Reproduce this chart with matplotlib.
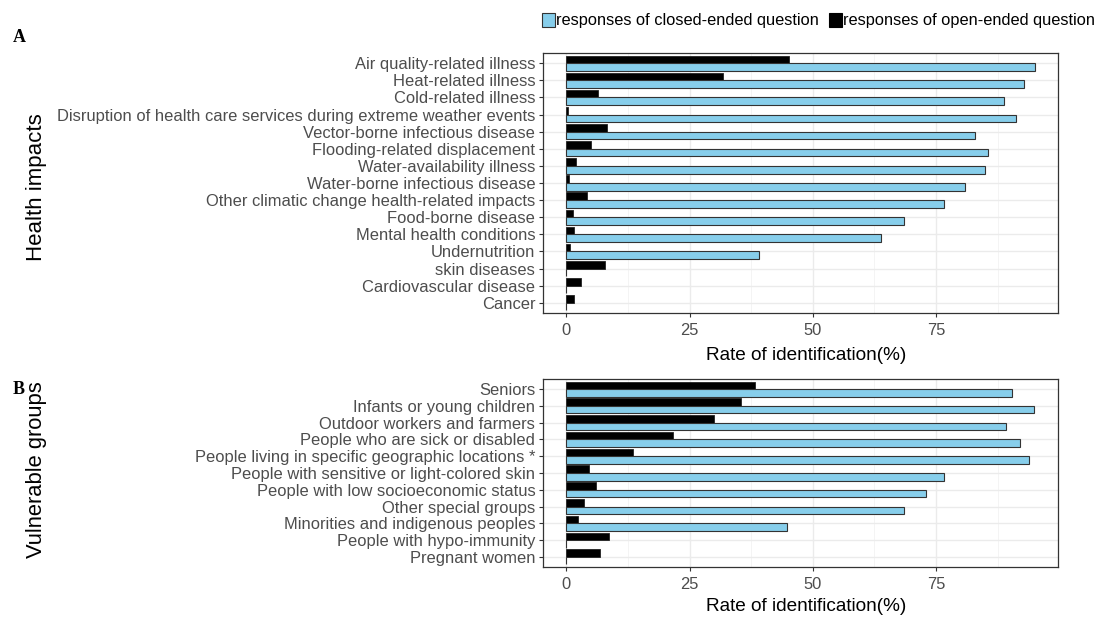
import matplotlib
matplotlib.use("Agg")
import matplotlib.pyplot as plt
import numpy as np
from matplotlib.patches import Rectangle

plt.rcParams['font.family'] = ['Liberation Sans', 'DejaVu Sans']

health_cats = ["Air quality-related illness", "Heat-related illness", "Cold-related illness",
               "Disruption of health care services during extreme weather events",
               "Vector-borne infectious disease", "Flooding-related displacement",
               "Water-availability illness", "Water-borne infectious disease",
               "Other climatic change health-related impacts", "Food-borne disease",
               "Mental health conditions", "Undernutrition", "skin diseases",
               "Cardiovascular disease", "Cancer"]
health_closed = [95.1, 92.8, 88.8, 91.2, 83.0, 85.6, 85.0, 80.9, 76.7, 68.4, 63.8, 39.0, 0, 0, 0]
health_open = [45.1, 31.8, 6.4, 0.3, 8.3, 4.9, 2.0, 0.6, 4.1, 1.4, 1.6, 0.8, 7.9, 3.0, 1.6]

group_cats = ["Seniors", "Infants or young children", "Outdoor workers and farmers",
              "People who are sick or disabled", "People living in specific geographic locations *",
              "People with sensitive or light-colored skin", "People with low socioeconomic status",
              "Other special groups", "Minorities and indigenous peoples",
              "People with hypo-immunity", "Pregnant women"]
group_closed = [90.5, 94.9, 89.1, 92.0, 93.9, 76.6, 73.0, 68.6, 44.7, 0, 0]
group_open = [38.2, 35.4, 30.0, 21.6, 13.6, 4.5, 6.1, 3.6, 2.4, 8.6, 6.9]

x_ticks = [0, 25, 50, 75]
legend_labels = ["responses of closed-ended question", "responses of open-ended question"]

BLUE = "#87CEEB"
W, H = 1102, 619
fig = plt.figure(figsize=(W / 100, H / 100), dpi=100)

def px_axes(left, top, right, bottom):
    return fig.add_axes([left / W, 1 - bottom / H, (right - left) / W, (bottom - top) / H])

def panel(ax, cats, closed, opened, label_y):
    n = len(cats)
    y = np.arange(n)
    h = 0.45
    ax.barh(y - h / 2, opened, height=h, color="black", edgecolor="#222222", linewidth=0.6, zorder=3)
    ax.barh(y + h / 2, closed, height=h, color=BLUE, edgecolor="#333333", linewidth=0.8, zorder=3)
    ax.set_ylim(n - 1 + 0.6, -0.6)
    ax.set_xlim(-4.75, 99.75)
    ax.set_yticks(y)
    ax.set_yticklabels(cats, fontsize=11.9, color="#4d4d4d")
    ax.set_xticks(x_ticks)
    ax.set_xticklabels([str(t) for t in x_ticks], fontsize=11.9, color="#4d4d4d")
    ax.set_xticks([12.5, 37.5, 62.5, 87.5], minor=True)
    ax.grid(True, which="major", color="#ebebeb", linewidth=1.0, zorder=0)
    ax.grid(True, which="minor", axis="x", color="#f2f2f2", linewidth=0.6, zorder=0)
    ax.set_axisbelow(True)
    ax.tick_params(axis="both", which="major", length=3, width=0.8, color="#333333", pad=2.5)
    ax.tick_params(axis="x", which="major", pad=4)
    ax.tick_params(axis="x", which="minor", length=0)
    for s in ax.spines.values():
        s.set_color("#333333")
        s.set_linewidth(0.9)
    ax.set_xlabel("Rate of identification(%)", fontsize=13.7)
    ax.xaxis.set_label_coords(0.511, label_y)

axA = px_axes(543, 53, 1058, 313)
panel(axA, health_cats, health_closed, health_open, (313 - 347) / 260)
axB = px_axes(543, 379, 1058, 567)
panel(axB, group_cats, group_closed, group_open, (567 - 598) / 188)

fig.text(37 / W, 1 - 187 / H, "Health impacts", rotation=90, fontsize=16, ha="center", va="center")
fig.text(37 / W, 1 - 470 / H, "Vulnerable groups", rotation=90, fontsize=15.8, ha="center", va="center")

fig.text(13 / W, 1 - 38 / H, "A", fontsize=13, fontweight="bold", family="Liberation Serif", ha="left", va="center")
fig.text(13 / W, 1 - 389 / H, "B", fontsize=13, fontweight="bold", family="Liberation Serif", ha="left", va="center")

# legend
ly = 1 - 20 / H
bw, bh = 13 / W, 13 / H
fig.patches.append(Rectangle((542 / W, ly - bh / 2), bw, bh, transform=fig.transFigure,
                             facecolor=BLUE, edgecolor="#333333", linewidth=0.8))
fig.text(556 / W, ly, legend_labels[0], fontsize=11.8, ha="left", va="center", color="black")
fig.patches.append(Rectangle((829 / W, ly - bh / 2), bw, bh, transform=fig.transFigure,
                             facecolor="black", edgecolor="black", linewidth=0.8))
fig.text(843 / W, ly, legend_labels[1], fontsize=11.8, ha="left", va="center", color="black")

fig.savefig("out.png", dpi=100, facecolor="white")
